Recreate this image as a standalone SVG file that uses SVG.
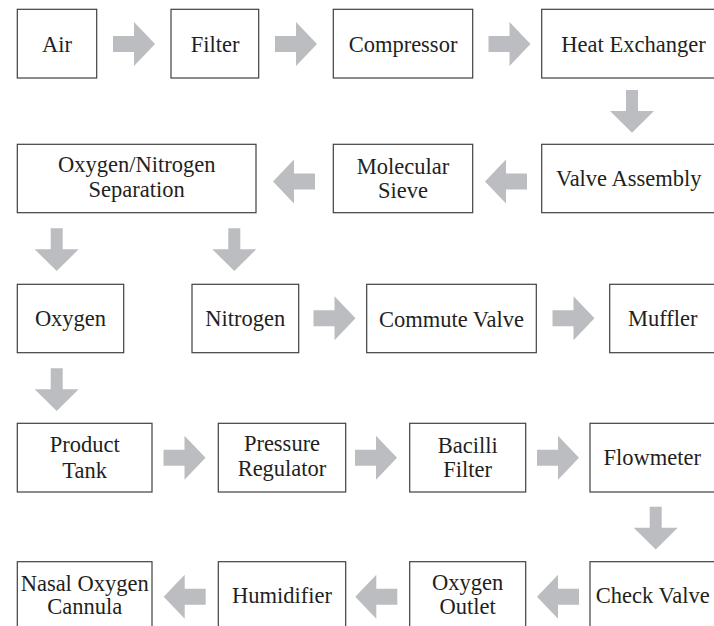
<svg xmlns="http://www.w3.org/2000/svg" xmlns:xlink="http://www.w3.org/1999/xlink" width="714" height="626" viewBox="0 0 714 626">
<style>
.box{fill:#ffffff;stroke:#404040;stroke-width:1.2}
.t{font-family:'Liberation Serif','Times New Roman',serif;font-size:22.5px;fill:#231f20;text-anchor:middle}
.arr{fill:#bcbdc0}
</style>
<defs>
<path id="ra" class="arr" d="M0,-8 H21 V-22 L42,0 L21,22 V8 H0 Z"/>
<path id="da" class="arr" d="M-6,0 V21 H-22 L0,42.7 L22,21 H6 V0 Z"/>
</defs>
<rect width="714" height="626" fill="#ffffff"/>
<g id="connectors">
<use xlink:href="#ra" transform="translate(113,44)"/>
<use xlink:href="#ra" transform="translate(275,44)"/>
<use xlink:href="#ra" transform="translate(488.5,44)"/>
<use xlink:href="#da" transform="translate(632,90)"/>
<use xlink:href="#ra" transform="translate(527,181.5) scale(-1,1)"/>
<use xlink:href="#ra" transform="translate(315,181.5) scale(-1,1)"/>
<use xlink:href="#da" transform="translate(56.7,228.3)"/>
<use xlink:href="#da" transform="translate(234.3,228.3)"/>
<use xlink:href="#ra" transform="translate(313.5,318.3)"/>
<use xlink:href="#ra" transform="translate(552.5,318.3)"/>
<use xlink:href="#da" transform="translate(56.7,368.3)"/>
<use xlink:href="#ra" transform="translate(163.5,457.8)"/>
<use xlink:href="#ra" transform="translate(355,457.8)"/>
<use xlink:href="#ra" transform="translate(537,457.8)"/>
<use xlink:href="#da" transform="translate(655.7,506.7)"/>
<use xlink:href="#ra" transform="translate(579,596.7) scale(-1,1)"/>
<use xlink:href="#ra" transform="translate(397.3,596.7) scale(-1,1)"/>
<use xlink:href="#ra" transform="translate(205.7,596.7) scale(-1,1)"/>
</g>
<g id="air"><rect class="box" x="17.3" y="9.3" width="79.4" height="68.7"/><text class="t" x="57" y="51.5">Air</text></g>
<g id="filter"><rect class="box" x="171" y="9.3" width="87.7" height="68.7"/><text class="t" x="215" y="51.5">Filter</text></g>
<g id="compressor"><rect class="box" x="333.3" y="9.3" width="139.4" height="68.7"/><text class="t" x="403" y="51.5">Compressor</text></g>
<g id="heat-exchanger"><rect class="box" x="541.7" y="9.3" width="200" height="68.7"/><text class="t" x="633.5" y="51.5">Heat Exchanger</text></g>
<g id="separation"><rect class="box" x="17.3" y="144.3" width="238.7" height="68.4"/><text class="t" x="136.7" y="172">Oxygen/Nitrogen</text><text class="t" x="136.7" y="197">Separation</text></g>
<g id="molecular-sieve"><rect class="box" x="333.3" y="144.3" width="139.4" height="68.4"/><text class="t" x="403" y="173.5">Molecular</text><text class="t" x="403" y="198">Sieve</text></g>
<g id="valve-assembly"><rect class="box" x="541.7" y="144.3" width="200" height="68.4"/><text class="t" x="628.7" y="186">Valve Assembly</text></g>
<g id="oxygen"><rect class="box" x="17.3" y="284.3" width="106.4" height="68.4"/><text class="t" x="70.5" y="326">Oxygen</text></g>
<g id="nitrogen"><rect class="box" x="192" y="284.3" width="106.7" height="68.4"/><text class="t" x="245.3" y="326">Nitrogen</text></g>
<g id="commute-valve"><rect class="box" x="366.7" y="284.3" width="169.6" height="68.4"/><text class="t" x="451.5" y="326.5">Commute Valve</text></g>
<g id="muffler"><rect class="box" x="609.7" y="284.3" width="150" height="68.4"/><text class="t" x="662.7" y="326">Muffler</text></g>
<g id="product-tank"><rect class="box" x="17.3" y="423.3" width="134.7" height="68.7"/><text class="t" x="84.7" y="452">Product</text><text class="t" x="84.7" y="477.5">Tank</text></g>
<g id="pressure-regulator"><rect class="box" x="218.3" y="423.3" width="127.4" height="68.7"/><text class="t" x="282" y="450.5">Pressure</text><text class="t" x="282" y="475.5">Regulator</text></g>
<g id="bacilli-filter"><rect class="box" x="409.7" y="423.3" width="116" height="68.7"/><text class="t" x="467.7" y="452.5">Bacilli</text><text class="t" x="467.7" y="477">Filter</text></g>
<g id="flowmeter"><rect class="box" x="590" y="423.3" width="150" height="68.7"/><text class="t" x="652.3" y="465">Flowmeter</text></g>
<g id="nasal-cannula"><rect class="box" x="17.3" y="561.7" width="134.7" height="80"/><text class="t" x="84.7" y="590.5">Nasal Oxygen</text><text class="t" x="84.7" y="614">Cannula</text></g>
<g id="humidifier"><rect class="box" x="218.3" y="561.7" width="127.4" height="80"/><text class="t" x="282" y="603.3">Humidifier</text></g>
<g id="oxygen-outlet"><rect class="box" x="409.7" y="561.7" width="116" height="80"/><text class="t" x="467.7" y="590">Oxygen</text><text class="t" x="467.7" y="613.5">Outlet</text></g>
<g id="check-valve"><rect class="box" x="590" y="561.7" width="150" height="80"/><text class="t" x="652.8" y="603.3">Check Valve</text></g>
</svg>
